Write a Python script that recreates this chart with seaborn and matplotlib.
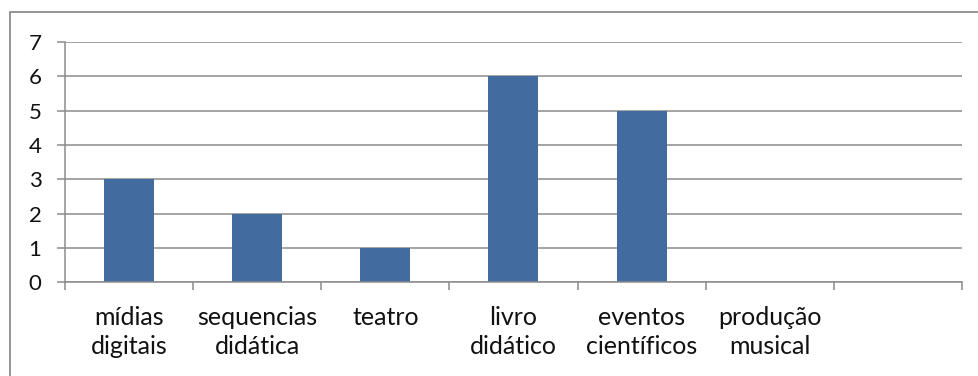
import matplotlib
matplotlib.use("Agg")
import matplotlib.pyplot as plt
import seaborn as sns
import pandas as pd
from matplotlib.patches import Rectangle

# Data
categories = ["mídias\ndigitais", "sequencias\ndidática", "teatro",
              "livro\ndidático", "eventos\ncientíficos", "produção\nmusical"]
values = [3, 2, 1, 6, 5, 0]
yticks = [0, 1, 2, 3, 4, 5, 6, 7]
n_slots = 7  # the category axis keeps one trailing empty slot

sns.set_theme(style="white")
plt.rcParams["font.family"] = ["Lato", "DejaVu Sans"]

df = pd.DataFrame({"categoria": categories, "valor": values})

fig = plt.figure(figsize=(9.79, 3.76), dpi=100)
ax = fig.add_axes([0.0664, 0.2487, 0.9162, 0.6403])

sns.barplot(data=df, x="categoria", y="valor", order=categories,
            color="#426B9F", saturation=1, width=0.39, ax=ax,
            edgecolor="none", errorbar=None)

grid_c = "#8C8C8C"
text_c = "#111111"
ax.set_xlim(-0.5, n_slots - 0.5)
ax.set_ylim(0, 7)
ax.set_yticks(yticks)
ax.set_yticklabels([str(t) for t in yticks])
ax.yaxis.grid(True, color=grid_c, linewidth=1.1)
ax.set_axisbelow(True)

# Category boundary ticks, labels centred in each slot
ax.set_xticks([i - 0.5 for i in range(n_slots + 1)])
ax.set_xticklabels([])
ax.set_xticks(list(range(len(categories))), minor=True)
ax.set_xticklabels(categories, minor=True, fontsize=18, color=text_c,
                   linespacing=1.3)
ax.tick_params(axis="x", which="major", length=6, width=1.1, color=grid_c,
               direction="out", bottom=True)
ax.tick_params(axis="x", which="minor", length=0, pad=17, bottom=True)
ax.tick_params(axis="y", length=6, width=1.1, color=grid_c, direction="out",
               left=True, pad=11, labelsize=16, labelcolor=text_c)

ax.set_xlabel("")
ax.set_ylabel("")
for side in ["top", "right"]:
    ax.spines[side].set_visible(False)
for side in ["left", "bottom"]:
    ax.spines[side].set_color(grid_c)
    ax.spines[side].set_linewidth(1.1)

# Chart-area border
fig.patches.append(Rectangle((10 / 979, -0.05), 1.0, 1 - 12 / 376 + 0.05,
                             transform=fig.transFigure, fill=False,
                             edgecolor="#8C8C8C", linewidth=1.3))

fig.savefig("out.png", dpi=100)
